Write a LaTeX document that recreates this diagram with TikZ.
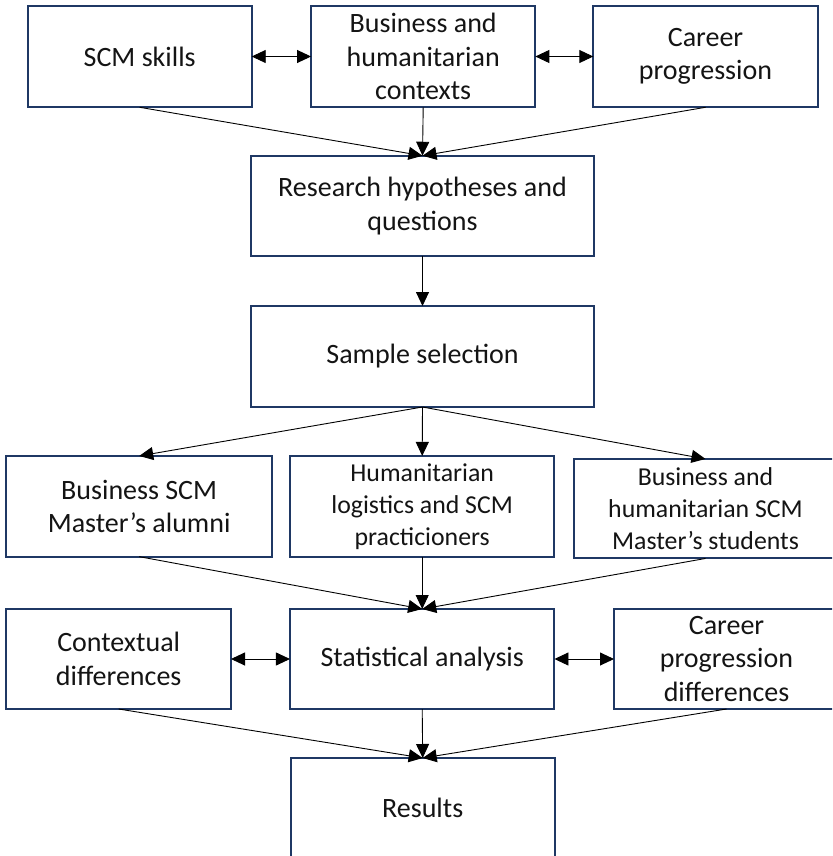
\documentclass[tikz,border=0pt]{standalone}
\usepackage{fontspec}
\setmainfont{Carlito}
\usetikzlibrary{arrows.meta}
\definecolor{boxline}{RGB}{31,56,100}
\definecolor{txt}{RGB}{20,20,20}
\tikzset{
  stepbox/.style={draw=boxline, line width=2pt, inner sep=0pt, outer sep=0pt,
    align=center, text=txt, font=\fontsize{28}{33.5}\selectfont},
  smallbox/.style={stepbox, font=\fontsize{25.8}{32}\selectfont},
  conn/.style={line width=0.9pt, draw=black, -{Triangle[length=14pt,width=13pt]}},
  bconn/.style={line width=0.9pt, draw=black, {Triangle[length=14pt,width=13pt]}-{Triangle[length=14pt,width=13pt]}}
}
\begin{document}
\begin{tikzpicture}[x=1pt,y=-1pt]
\useasboundingbox (0,0) rectangle (832,856);
\clip (0,0) rectangle (832,856);
\fill[white] (0,0) rectangle (832,856);
% row 1
\node[stepbox, minimum width=224pt, minimum height=101.6pt] (scm) at (139.7,56.5) {SCM skills};
\node[stepbox, minimum width=224.3pt, minimum height=101.6pt] (ctx) at (423.2,56.5) {Business and\\humanitarian\\contexts};
\node[stepbox, minimum width=224.4pt, minimum height=101.6pt] (car) at (705.5,56.5) {Career\\progression};
% row 2
\node[stepbox, minimum width=343.6pt, minimum height=100.3pt] (rq) at (422.5,205.9) {Research hypotheses and\\questions};
% row 3
\node[stepbox, minimum width=343.6pt, minimum height=101pt] (ss) at (422.5,356.5) {Sample selection};
% row 4
\node[stepbox, minimum width=265.6pt, minimum height=100.7pt] (alu) at (139.2,506.3) {Business SCM\\Master’s alumni};
\node[smallbox, minimum width=264.4pt, minimum height=100.7pt] (hum) at (422.2,506.3) {Humanitarian\\logistics and SCM\\practicioners};
\node[smallbox, minimum width=263pt, minimum height=99.5pt] (stu) at (705.5,508.7) {Business and\\humanitarian SCM\\Master’s students};
% row 5
\node[stepbox, minimum width=224.6pt, minimum height=100pt] (cdiff) at (118.7,659) {Contextual\\differences};
\node[stepbox, minimum width=264.5pt, minimum height=100pt] (stat) at (422.2,659) {Statistical analysis};
\node[stepbox, minimum width=225pt, minimum height=100pt] (cpd) at (726.5,659) {Career\\progression\\differences};
% row 6
\node[stepbox, minimum width=264pt, minimum height=100pt] (res) at (422.7,808) {Results};
% connectors
\draw[bconn] (scm.east) -- (ctx.west);
\draw[bconn] (ctx.east) -- (car.west);
\draw[conn] (scm.south) -- (rq.north);
\draw[conn] (ctx.south) -- (rq.north);
\draw[conn] (car.south) -- (rq.north);
\draw[conn] (rq.south) -- (ss.north);
\draw[conn] (ss.south) -- (alu.north);
\draw[conn] (ss.south) -- (hum.north);
\draw[conn] (ss.south) -- (stu.north);
\draw[conn] (alu.south) -- (stat.north);
\draw[conn] (hum.south) -- (stat.north);
\draw[conn] (stu.south) -- (stat.north);
\draw[bconn] (cdiff.east) -- (stat.west);
\draw[bconn] (stat.east) -- (cpd.west);
\draw[conn] (cdiff.south) -- (res.north);
\draw[conn] (stat.south) -- (res.north);
\draw[conn] (cpd.south) -- (res.north);
\end{tikzpicture}
\end{document}
